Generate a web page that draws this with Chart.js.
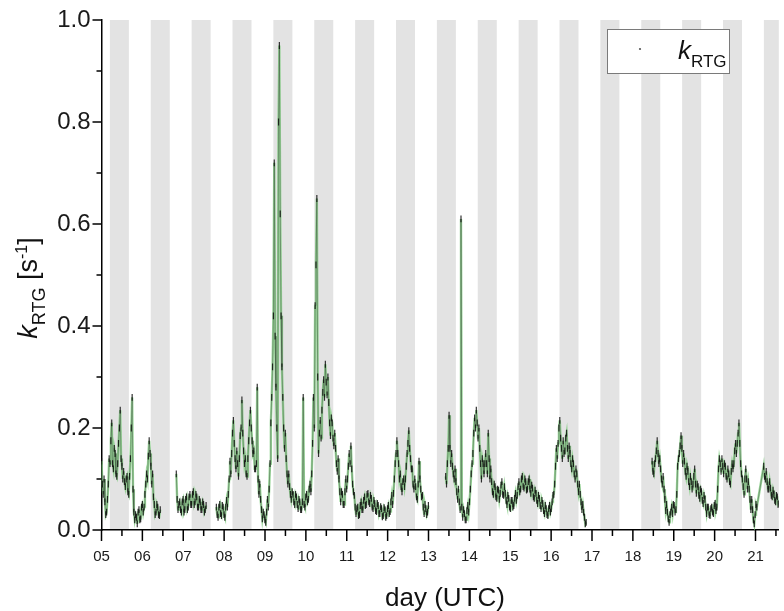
<!DOCTYPE html>
<html>
<head>
<meta charset="utf-8">
<script src="https://cdn.jsdelivr.net/npm/chart.js@4.4.1/dist/chart.umd.min.js"></script>
<style>
    html, body { margin: 0; padding: 0; background: #fff; }
    #wrap { width: 784px; height: 611px; }
</style>
</head>
<body>
<div id="wrap"><canvas id="kChart" width="784" height="611"></canvas></div>
<script>
/* ============================
   Datos
============================ */
const STEP = 1 / 24   // una muestra por hora (días); la serie "b" va desplazada media hora

// inicio de cada tramo (día UTC)
const segStarts = [5.0, 6.83, 7.81, 13.42, 18.47, 21.2]
// el tramo i se une con el siguiente por una línea (true) o queda cortado (false)
const segJoined = [false, false, false, false, true]

const seg1a = [0.135, 0.07, 0.055, 0.035, 0.09, 0.13, 0.21, 0.12, 0.15, 0.105, 0.17, 0.235, 0.125, 0.115, 0.085, 0.105,
    0.07, 0.14, 0.26, 0.035, 0.03, 0.012, 0.04, 0.022, 0.05, 0.045, 0.09, 0.1, 0.175, 0.125, 0.11, 0.05, 0.035, 0.045, 0.028]
const seg1b = [0.09, 0.1, 0.03, 0.06, 0.14, 0.175, 0.13, 0.16, 0.11, 0.13, 0.2, 0.14, 0.1, 0.095, 0.1, 0.075,
    0.105, 0.2, 0.08, 0.02, 0.025, 0.035, 0.02, 0.045, 0.035, 0.07, 0.11, 0.145, 0.15, 0.09, 0.065, 0.03, 0.05, 0.03, 0.04]

const seg2a = [0.11, 0.04, 0.055, 0.035, 0.06, 0.04, 0.065, 0.045, 0.07, 0.05, 0.075, 0.055, 0.065, 0.045, 0.055, 0.04, 0.05, 0.04]
const seg2b = [0.06, 0.05, 0.04, 0.055, 0.035, 0.06, 0.04, 0.065, 0.05, 0.07, 0.05, 0.07, 0.045, 0.06, 0.04, 0.055, 0.035, 0.048]

const seg3a = [0.045, 0.025, 0.05, 0.028, 0.045, 0.025, 0.058, 0.07, 0.135, 0.15, 0.215, 0.14, 0.155, 0.105, 0.185, 0.255,
    0.155, 0.14, 0.105, 0.175, 0.235, 0.175, 0.155, 0.12, 0.28, 0.07, 0.06, 0.022, 0.03, 0.015, 0.06, 0.08,
    0.21, 0.32, 0.72, 0.28, 0.14, 0.95, 0.42, 0.26, 0.16, 0.14, 0.09, 0.085, 0.06, 0.07, 0.05, 0.065,
    0.042, 0.055, 0.04, 0.26, 0.045, 0.07, 0.06, 0.09, 0.11, 0.26, 0.44, 0.65, 0.15, 0.215, 0.235, 0.295,
    0.325, 0.265, 0.25, 0.185, 0.21, 0.165, 0.16, 0.115, 0.1, 0.055, 0.07, 0.05, 0.1, 0.1, 0.15, 0.165,
    0.09, 0.068, 0.032, 0.045, 0.03, 0.055, 0.04, 0.065, 0.05, 0.072, 0.052, 0.062, 0.042, 0.052, 0.036, 0.048,
    0.032, 0.042, 0.028, 0.04, 0.028, 0.048, 0.036, 0.068, 0.072, 0.13, 0.175, 0.13, 0.11, 0.075, 0.1, 0.1,
    0.15, 0.195, 0.14, 0.12, 0.08, 0.085, 0.06, 0.135, 0.08, 0.068, 0.032, 0.042, 0.035]
const seg3b = [0.03, 0.045, 0.032, 0.048, 0.03, 0.045, 0.045, 0.1, 0.11, 0.19, 0.17, 0.12, 0.13, 0.14, 0.2, 0.19,
    0.13, 0.11, 0.14, 0.21, 0.2, 0.15, 0.12, 0.13, 0.1, 0.09, 0.04, 0.035, 0.02, 0.035, 0.045, 0.13,
    0.26, 0.42, 0.38, 0.2, 0.8, 0.62, 0.32, 0.2, 0.19, 0.11, 0.11, 0.07, 0.075, 0.055, 0.07, 0.05,
    0.06, 0.04, 0.055, 0.05, 0.065, 0.055, 0.08, 0.075, 0.17, 0.2, 0.52, 0.3, 0.19, 0.18, 0.27, 0.26,
    0.29, 0.3, 0.21, 0.22, 0.18, 0.19, 0.13, 0.14, 0.075, 0.075, 0.05, 0.075, 0.08, 0.125, 0.13, 0.12,
    0.075, 0.045, 0.042, 0.028, 0.048, 0.04, 0.058, 0.048, 0.07, 0.055, 0.068, 0.045, 0.058, 0.038, 0.052, 0.032,
    0.046, 0.026, 0.044, 0.025, 0.042, 0.032, 0.055, 0.05, 0.1, 0.15, 0.15, 0.1, 0.085, 0.095, 0.085, 0.125,
    0.17, 0.16, 0.12, 0.09, 0.1, 0.065, 0.09, 0.1, 0.065, 0.045, 0.05, 0.03, 0.048]

const seg4a = [0.105, 0.13, 0.225, 0.13, 0.125, 0.1, 0.095, 0.06, 0.055, 0.61, 0.025, 0.032, 0.02, 0.048, 0.055, 0.11,
    0.15, 0.22, 0.235, 0.18, 0.16, 0.1, 0.13, 0.13, 0.13, 0.19, 0.1, 0.095, 0.07, 0.085, 0.062, 0.078,
    0.072, 0.095, 0.068, 0.072, 0.05, 0.062, 0.042, 0.058, 0.048, 0.072, 0.068, 0.095, 0.08, 0.105, 0.082, 0.095,
    0.08, 0.1, 0.072, 0.082, 0.062, 0.072, 0.052, 0.062, 0.042, 0.052, 0.032, 0.042, 0.028, 0.048, 0.042, 0.068,
    0.09, 0.16, 0.17, 0.215, 0.16, 0.175, 0.155, 0.19, 0.14, 0.15, 0.12, 0.13, 0.1, 0.11, 0.075, 0.07,
    0.04, 0.035, 0.012]
const seg4b = [0.09, 0.16, 0.16, 0.15, 0.11, 0.12, 0.075, 0.08, 0.04, 0.045, 0.04, 0.02, 0.038, 0.035, 0.08, 0.13,
    0.19, 0.2, 0.21, 0.2, 0.13, 0.14, 0.11, 0.15, 0.11, 0.14, 0.12, 0.075, 0.09, 0.065, 0.08, 0.06,
    0.088, 0.07, 0.085, 0.058, 0.068, 0.045, 0.058, 0.045, 0.062, 0.058, 0.085, 0.075, 0.1, 0.085, 0.1, 0.078,
    0.095, 0.08, 0.088, 0.065, 0.078, 0.058, 0.068, 0.048, 0.058, 0.038, 0.048, 0.03, 0.042, 0.035, 0.055, 0.07,
    0.125, 0.14, 0.2, 0.18, 0.14, 0.15, 0.18, 0.16, 0.165, 0.13, 0.14, 0.11, 0.12, 0.09, 0.09, 0.055,
    0.05, 0.025, 0.015]

const seg5a = [0.135, 0.11, 0.14, 0.175, 0.13, 0.12, 0.09, 0.08, 0.038, 0.035, 0.015, 0.035, 0.032, 0.048, 0.04, 0.125,
    0.15, 0.185, 0.13, 0.135, 0.105, 0.115, 0.085, 0.095, 0.09, 0.12, 0.072, 0.085, 0.062, 0.075, 0.052, 0.06,
    0.032, 0.045, 0.028, 0.045, 0.032, 0.052, 0.045, 0.12, 0.13, 0.14, 0.11, 0.125, 0.1, 0.11, 0.09, 0.13,
    0.13, 0.17, 0.17, 0.21, 0.13, 0.1, 0.07, 0.12, 0.08, 0.08, 0.04, 0.04, 0.012, 0.05]
const seg5b = [0.115, 0.13, 0.155, 0.15, 0.14, 0.1, 0.105, 0.06, 0.05, 0.022, 0.03, 0.045, 0.05, 0.035, 0.07, 0.14,
    0.165, 0.16, 0.15, 0.115, 0.125, 0.095, 0.105, 0.08, 0.105, 0.09, 0.09, 0.068, 0.08, 0.058, 0.068, 0.045,
    0.045, 0.03, 0.042, 0.035, 0.048, 0.038, 0.08, 0.14, 0.115, 0.125, 0.13, 0.105, 0.12, 0.095, 0.115, 0.12,
    0.155, 0.15, 0.19, 0.17, 0.11, 0.085, 0.1, 0.1, 0.095, 0.06, 0.06, 0.02, 0.03, 0.045]

const seg6a = [0.125, 0.1, 0.095, 0.08, 0.082, 0.065, 0.07, 0.055, 0.065, 0.052]
const seg6b = [0.105, 0.115, 0.08, 0.095, 0.068, 0.078, 0.058, 0.068, 0.05, 0.06]

const segA = [seg1a, seg2a, seg3a, seg4a, seg5a, seg6a]
const segB = [seg1b, seg2b, seg3b, seg4b, seg5b, seg6b]

// ejes
const dayLabels = ['05', '06', '07', '08', '09', '10', '11', '12', '13', '14', '15', '16', '17', '18', '19', '20', '21']
const yTickLabels = ['0.0', '0.2', '0.4', '0.6', '0.8', '1.0']
const X_MIN = 5
const X_MAX = 21.57

// franjas grises (horas nocturnas), en fracción de día
const bandDays = [5, 6, 7, 8, 9, 10, 11, 12, 13, 14, 15, 16, 17, 18, 19, 20, 21]
const bandFrom = 0.205
const bandTo = 0.67

const FONT = '"Liberation Sans", Arial, sans-serif'

// ============================
// Puntos {x, y} por tramo
// ============================
function buildPoints() {
    const pts = []
    segA.forEach((seg, s) => {
        seg.forEach((v, i) => {
            const t = segStarts[s] + i * STEP
            pts.push({ x: t, y: v })
            pts.push({ x: t + STEP / 2, y: segB[s][i] })
        })
        if (s < segA.length - 1 && !segJoined[s]) {
            const last = segStarts[s] + seg.length * STEP
            pts.push({ x: (last + segStarts[s + 1]) / 2, y: null })
        }
    })
    return pts
}

// ============================
// Plugins de dibujo
// ============================
const bandsPlugin = {
    id: 'bands',
    beforeDraw(chart) {
        const { ctx, chartArea: a, scales: { x } } = chart
        ctx.save()
        ctx.beginPath()
        ctx.rect(a.left, a.top, a.right - a.left, a.bottom - a.top)
        ctx.clip()
        ctx.fillStyle = '#e3e3e3'
        bandDays.forEach(d => {
            const x0 = x.getPixelForValue(d + bandFrom)
            const x1 = x.getPixelForValue(d + bandTo)
            ctx.fillRect(x0, a.top, x1 - x0, a.bottom - a.top)
        })
        ctx.restore()
    }
}

const ticksPlugin = {
    id: 'tickMarks',
    afterDraw(chart) {
        const { ctx, chartArea: a, scales: { x, y } } = chart
        ctx.save()
        ctx.strokeStyle = '#000'
        ctx.lineWidth = 1.5
        x.ticks.forEach(t => {
            const px = x.getPixelForValue(t.value)
            const len = Number.isInteger(t.value) ? 11 : 6
            ctx.beginPath()
            ctx.moveTo(px, a.bottom)
            ctx.lineTo(px, a.bottom + len)
            ctx.stroke()
        })
        y.ticks.forEach(t => {
            const py = y.getPixelForValue(t.value)
            const len = Math.round(t.value * 10) % 2 === 0 ? 9 : 5
            ctx.beginPath()
            ctx.moveTo(a.left - len, py)
            ctx.lineTo(a.left, py)
            ctx.stroke()
        })
        ctx.restore()
    }
}

function runsWidth(ctx, runs) {
    return runs.reduce((w, r) => { ctx.font = r.font; return w + ctx.measureText(r.text).width }, 0)
}

function drawRuns(ctx, runs, x, y) {
    let cx = x
    runs.forEach(r => {
        ctx.font = r.font
        ctx.fillText(r.text, cx, y + (r.dy || 0))
        cx += ctx.measureText(r.text).width
    })
}

const labelsPlugin = {
    id: 'labels',
    afterDraw(chart) {
        const { ctx } = chart
        ctx.save()
        ctx.fillStyle = '#111'
        ctx.textBaseline = 'alphabetic'
        ctx.textAlign = 'left'

        // título eje Y
        const yRuns = [
            { text: 'k', font: `italic 27px ${FONT}` },
            { text: 'RTG', font: `18px ${FONT}`, dy: 8 },
            { text: ' [s', font: `27px ${FONT}` },
            { text: '-1', font: `16px ${FONT}`, dy: -10 },
            { text: ']', font: `27px ${FONT}` }
        ]
        ctx.save()
        ctx.translate(37, 288)
        ctx.rotate(-Math.PI / 2)
        drawRuns(ctx, yRuns, -runsWidth(ctx, yRuns) / 2, 0)
        ctx.restore()

        // título eje X
        ctx.font = `26px ${FONT}`
        ctx.textAlign = 'center'
        ctx.fillText('day (UTC)', 445, 606)
        ctx.textAlign = 'left'

        // leyenda
        ctx.fillStyle = '#fff'
        ctx.fillRect(607.5, 29.5, 122, 44)
        ctx.strokeStyle = '#7a7a7a'
        ctx.lineWidth = 1
        ctx.strokeRect(607.5, 29.5, 122, 44)
        ctx.fillStyle = '#555'
        ctx.beginPath()
        ctx.arc(640, 49, 1.1, 0, Math.PI * 2)
        ctx.fill()
        ctx.fillStyle = '#111'
        drawRuns(ctx, [
            { text: 'k', font: `italic 26px ${FONT}` },
            { text: 'RTG', font: `17px ${FONT}`, dy: 8 }
        ], 678, 59)
        ctx.restore()
    }
}

// ============================
// Chart
// ============================
document.addEventListener('DOMContentLoaded', () => {
    const points = buildPoints()
    const ctx = document.getElementById('kChart').getContext('2d')

    new Chart(ctx, {
        type: 'scatter',
        data: {
            datasets: [
                {
                    label: 'kRTG',
                    data: points,
                    showLine: true,
                    spanGaps: false,
                    borderColor: 'rgba(20,20,20,0.55)',
                    borderWidth: 0.6,
                    pointStyle: 'line',
                    rotation: 90,
                    pointRadius: 3.4,
                    pointBorderWidth: 1.2,
                    pointBorderColor: 'rgba(15,15,15,0.85)',
                    pointBackgroundColor: '#111',
                    order: 0
                },
                {
                    label: 'kRTG line',
                    data: points,
                    showLine: true,
                    spanGaps: false,
                    pointRadius: 0,
                    borderColor: 'rgba(130,205,130,0.8)',
                    borderWidth: 2.4,
                    order: 1
                }
            ]
        },
        options: {
            responsive: false,
            animation: false,
            layout: { padding: { top: 20, right: 0, bottom: 0, left: 0 } },
            plugins: { legend: { display: false }, tooltip: { enabled: false } },
            scales: {
                x: {
                    type: 'linear',
                    min: X_MIN,
                    max: X_MAX,
                    afterFit: s => { s.height = 81 },
                    afterBuildTicks: s => {
                        const ticks = []
                        dayLabels.forEach((_, i) => {
                            ticks.push({ value: X_MIN + i })
                            ticks.push({ value: X_MIN + i + 0.5 })
                        })
                        s.ticks = ticks
                    },
                    ticks: {
                        autoSkip: false,
                        maxRotation: 0,
                        padding: 7,
                        color: '#1a1a1a',
                        font: { family: FONT, size: 15 },
                        callback: v => Number.isInteger(v) ? dayLabels[v - X_MIN] : ''
                    },
                    grid: { display: false, drawTicks: true, tickLength: 11 },
                    border: { display: true, color: '#000', width: 1.5 }
                },
                y: {
                    min: 0,
                    max: 1,
                    afterFit: s => { s.width = 101.5 },
                    ticks: {
                        stepSize: 0.1,
                        padding: 2,
                        color: '#1a1a1a',
                        font: { family: FONT, size: 24 },
                        callback: v => {
                            const k = Math.round(v * 10)
                            return k % 2 === 0 ? yTickLabels[k / 2] : ''
                        }
                    },
                    grid: { display: false, drawTicks: true, tickLength: 9 },
                    border: { display: true, color: '#000', width: 1.5 }
                }
            }
        },
        plugins: [bandsPlugin, ticksPlugin, labelsPlugin]
    })
})
</script>
</body>
</html>
